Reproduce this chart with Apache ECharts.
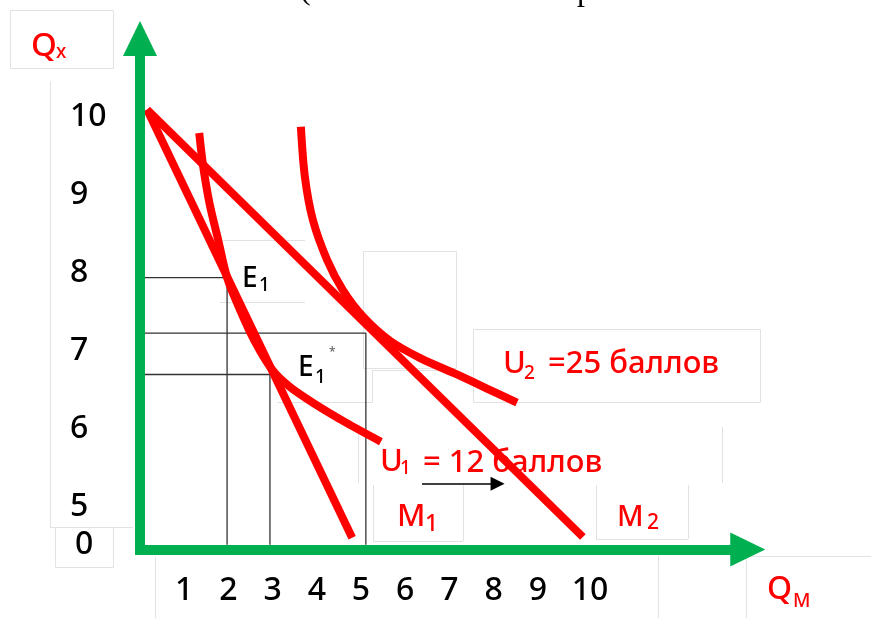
<!DOCTYPE html>
<html><head><meta charset="utf-8">
<script src="https://cdn.jsdelivr.net/npm/echarts@6/dist/echarts.min.js"></script>
<style>html,body{margin:0;padding:0;background:#fff}#c{width:871px;height:618px}</style>
</head><body><div id="c"></div>
<script>
// ---- data (diagram units: x = Q_M, y = Q_X; y axis is broken below 5) ----
const xTickValues = [1, 2, 3, 4, 5, 6, 7, 8, 9, 10];
const xTickLabels = ['1', '2', '3', '4', '5', '6', '7', '8', '9', '10'];
const yTickValues = [4.52, 5, 6, 7, 8, 9, 10];
const yTickLabels = ['0', '5', '6', '7', '8', '9', '10'];

const budgetM1 = [[0.16, 10.09], [4.80, 4.61]];
const budgetM2 = [[0.16, 10.09], [10.02, 4.62]];
const curveU1 = [[1.34, 9.79], [1.43, 9.36], [1.58, 8.87], [1.77, 8.42], [1.97, 7.94], [2.26, 7.53],
                 [2.60, 7.12], [2.99, 6.76], [3.39, 6.54], [3.96, 6.32], [4.64, 6.09], [5.45, 5.84]];
const curveU2 = [[3.64, 9.87], [3.73, 9.23], [3.91, 8.68], [4.23, 8.17], [4.59, 7.78], [5.05, 7.44],
                 [5.66, 7.13], [6.34, 6.91], [7.17, 6.70], [7.85, 6.52], [8.53, 6.34]];
const guideE1 = [[0, 7.94], [1.97, 7.94], [1.97, 4.52]];
const guideE1s = [[0, 6.70], [2.94, 6.70], [2.94, 4.52]];
const guideE2 = [[0, 7.23], [5.11, 7.23], [5.11, 4.52]];
const shiftArrow = [[6.38, 5.30], [8.09, 5.30]];

// ---- styling ----
const RED = '#ff0000', GREEN = '#00b050', FONT = 'Noto Sans', W = 500;
const chart = echarts.init(document.getElementById('c'), null, {renderer: 'canvas'});

function txt(text, x, capC, size, color, family) {
  return {type: 'text', x: x, y: capC + 0.072 * size, silent: true,
    style: {text: text, fill: color, fontSize: size, fontFamily: family || FONT, fontWeight: W,
            align: 'left', verticalAlign: 'middle'}};
}
function gl(x1, y1, x2, y2) {
  return {type: 'line', silent: true, shape: {x1: x1, y1: y1, x2: x2, y2: y2},
          style: {stroke: '#e2e2e2', lineWidth: 1}};
}
function gr(x, y, w, h) {
  return {type: 'rect', silent: true, shape: {x: x, y: y, width: w, height: h},
          style: {stroke: '#e2e2e2', fill: null, lineWidth: 1}};
}

const graphics = [
  // faint text-box borders
  gr(10.5, 10.5, 103, 58),
  gl(50.5, 81, 50.5, 527.5), gl(50, 527.5, 133, 527.5), gr(55.5, 527.5, 58, 40),
  gl(155.5, 557, 155.5, 618), gl(658.5, 556, 658.5, 618), gl(746.5, 556, 746.5, 618), gl(746, 556.5, 871, 556.5),
  gl(223, 240.5, 305, 240.5), gl(220, 302.5, 305, 302.5),
  gr(363.5, 251.5, 93, 117),
  gl(277, 402.5, 372, 402.5), gl(372.5, 370, 372.5, 403), gl(372, 370.5, 455, 370.5),
  gr(473.5, 329.5, 287, 73),
  gl(358.5, 427, 358.5, 483), gl(722.5, 427, 722.5, 483),
  gl(373.5, 485, 373.5, 541), gl(373, 541.5, 463, 541.5), gl(463.5, 485, 463.5, 541),
  gl(596.5, 485, 596.5, 539), gl(596, 539.5, 688, 539.5), gl(688.5, 485, 688.5, 539),
  // cut-off text fragments at the very top
  {type: 'text', x: 300, y: 7, silent: true, style: {text: '(', fill: '#000', fontSize: 32, fontFamily: 'Liberation Serif', verticalAlign: 'bottom'}},
  {type: 'text', x: 577, y: 8, silent: true, style: {text: 'р', fill: '#000', fontSize: 32, fontFamily: 'Liberation Serif', verticalAlign: 'bottom'}},
  // axis titles
  txt('Q', 31, 44, 33, RED), txt('x', 56, 51, 19, RED),
  txt('Q', 767, 588, 32, RED), txt('M', 793, 600, 19, RED),
  // points
  txt('E', 242, 277, 28, '#000'), txt('1', 259, 284, 19, '#000'),
  txt('E', 298, 366, 28, '#000'), txt('1', 315, 376, 19, '#000'), txt('*', 329, 352, 12, '#666'),
  // curves
  txt('U', 503, 362, 31, RED), txt('2', 524, 372, 19, RED), txt('=25 баллов', 548, 362, 31, RED),
  txt('U', 380, 460, 31, RED), txt('1', 400, 467, 19, RED), txt('= 12 баллов', 423, 461, 31, RED),
  // budget lines
  txt('M', 397, 515, 31, RED), txt('1', 425, 523, 23, RED),
  txt('M', 617, 516, 29, RED), txt('2', 647, 522, 21, RED)
];

const redLine = {color: RED, width: 8, cap: 'butt'};
const guideLine = {color: '#333', width: 1.3};

chart.setOption({
  animation: false,
  backgroundColor: '#fff',
  grid: {left: 140, right: 123.25, top: 38.5, bottom: 68.5, containLabel: false, outerBoundsMode: 'none'},
  xAxis: {
    type: 'value', min: 0, max: 13.75, z: 5,
    axisLine: {show: true, onZero: false, symbol: ['none', 'triangle'], symbolSize: [34, 35],
               lineStyle: {color: GREEN, width: 10, cap: 'square'}},
    axisTick: {show: false}, splitLine: {show: false},
    axisLabel: {
      customValues: xTickValues, margin: 25, color: '#000', fontSize: 32, fontFamily: FONT, fontWeight: W,
      formatter: function (v) {
        const i = xTickValues.indexOf(v);
        if (i < 0) return '';
        return xTickLabels[i].length > 1 ? '{w|' + xTickLabels[i] + '}' : xTickLabels[i];
      },
      rich: {w: {fontSize: 32, fontFamily: FONT, fontWeight: W, color: '#000', padding: [0, 0, 0, 16]}}
    }
  },
  yAxis: {
    type: 'value', min: 4.46, max: 11, z: 5,
    axisLine: {show: true, onZero: false, symbol: ['none', 'triangle'], symbolSize: [34, 35],
               lineStyle: {color: GREEN, width: 10, cap: 'square'}},
    axisTick: {show: false}, splitLine: {show: false},
    axisLabel: {
      customValues: yTickValues, margin: 70, align: 'left', color: '#000', fontSize: 32, fontFamily: FONT, fontWeight: W,
      formatter: function (v) {
        let i = -1;
        yTickValues.forEach(function (t, k) { if (Math.abs(t - v) < 1e-6) i = k; });
        if (i < 0) return '';
        return yTickLabels[i] === '0' ? '{z|0}' : yTickLabels[i];
      },
      rich: {z: {fontSize: 32, fontFamily: FONT, fontWeight: W, color: '#000', padding: [0, 0, 0, 5]}}
    }
  },
  graphic: {elements: graphics},
  series: [
    {type: 'line', data: guideE1, showSymbol: false, lineStyle: guideLine, z: 1, silent: true},
    {type: 'line', data: guideE1s, showSymbol: false, lineStyle: guideLine, z: 1, silent: true},
    {type: 'line', data: guideE2, showSymbol: false, lineStyle: guideLine, z: 1, silent: true},
    {type: 'lines', coordinateSystem: 'cartesian2d', data: [{coords: shiftArrow}],
     symbol: ['none', 'triangle'], symbolSize: [11, 14],
     lineStyle: {color: '#000', width: 1.5, opacity: 1, curveness: 0}, z: 3, silent: true},
    {type: 'line', name: 'M1', data: budgetM1, showSymbol: false, lineStyle: redLine, z: 2, silent: true},
    {type: 'line', name: 'M2', data: budgetM2, showSymbol: false, lineStyle: redLine, z: 2, silent: true},
    {type: 'line', name: 'U1', data: curveU1, smooth: 0.3, showSymbol: false, lineStyle: redLine, z: 2, silent: true},
    {type: 'line', name: 'U2', data: curveU2, smooth: 0.3, showSymbol: false, lineStyle: redLine, z: 2, silent: true}
  ]
});
</script></body></html>
